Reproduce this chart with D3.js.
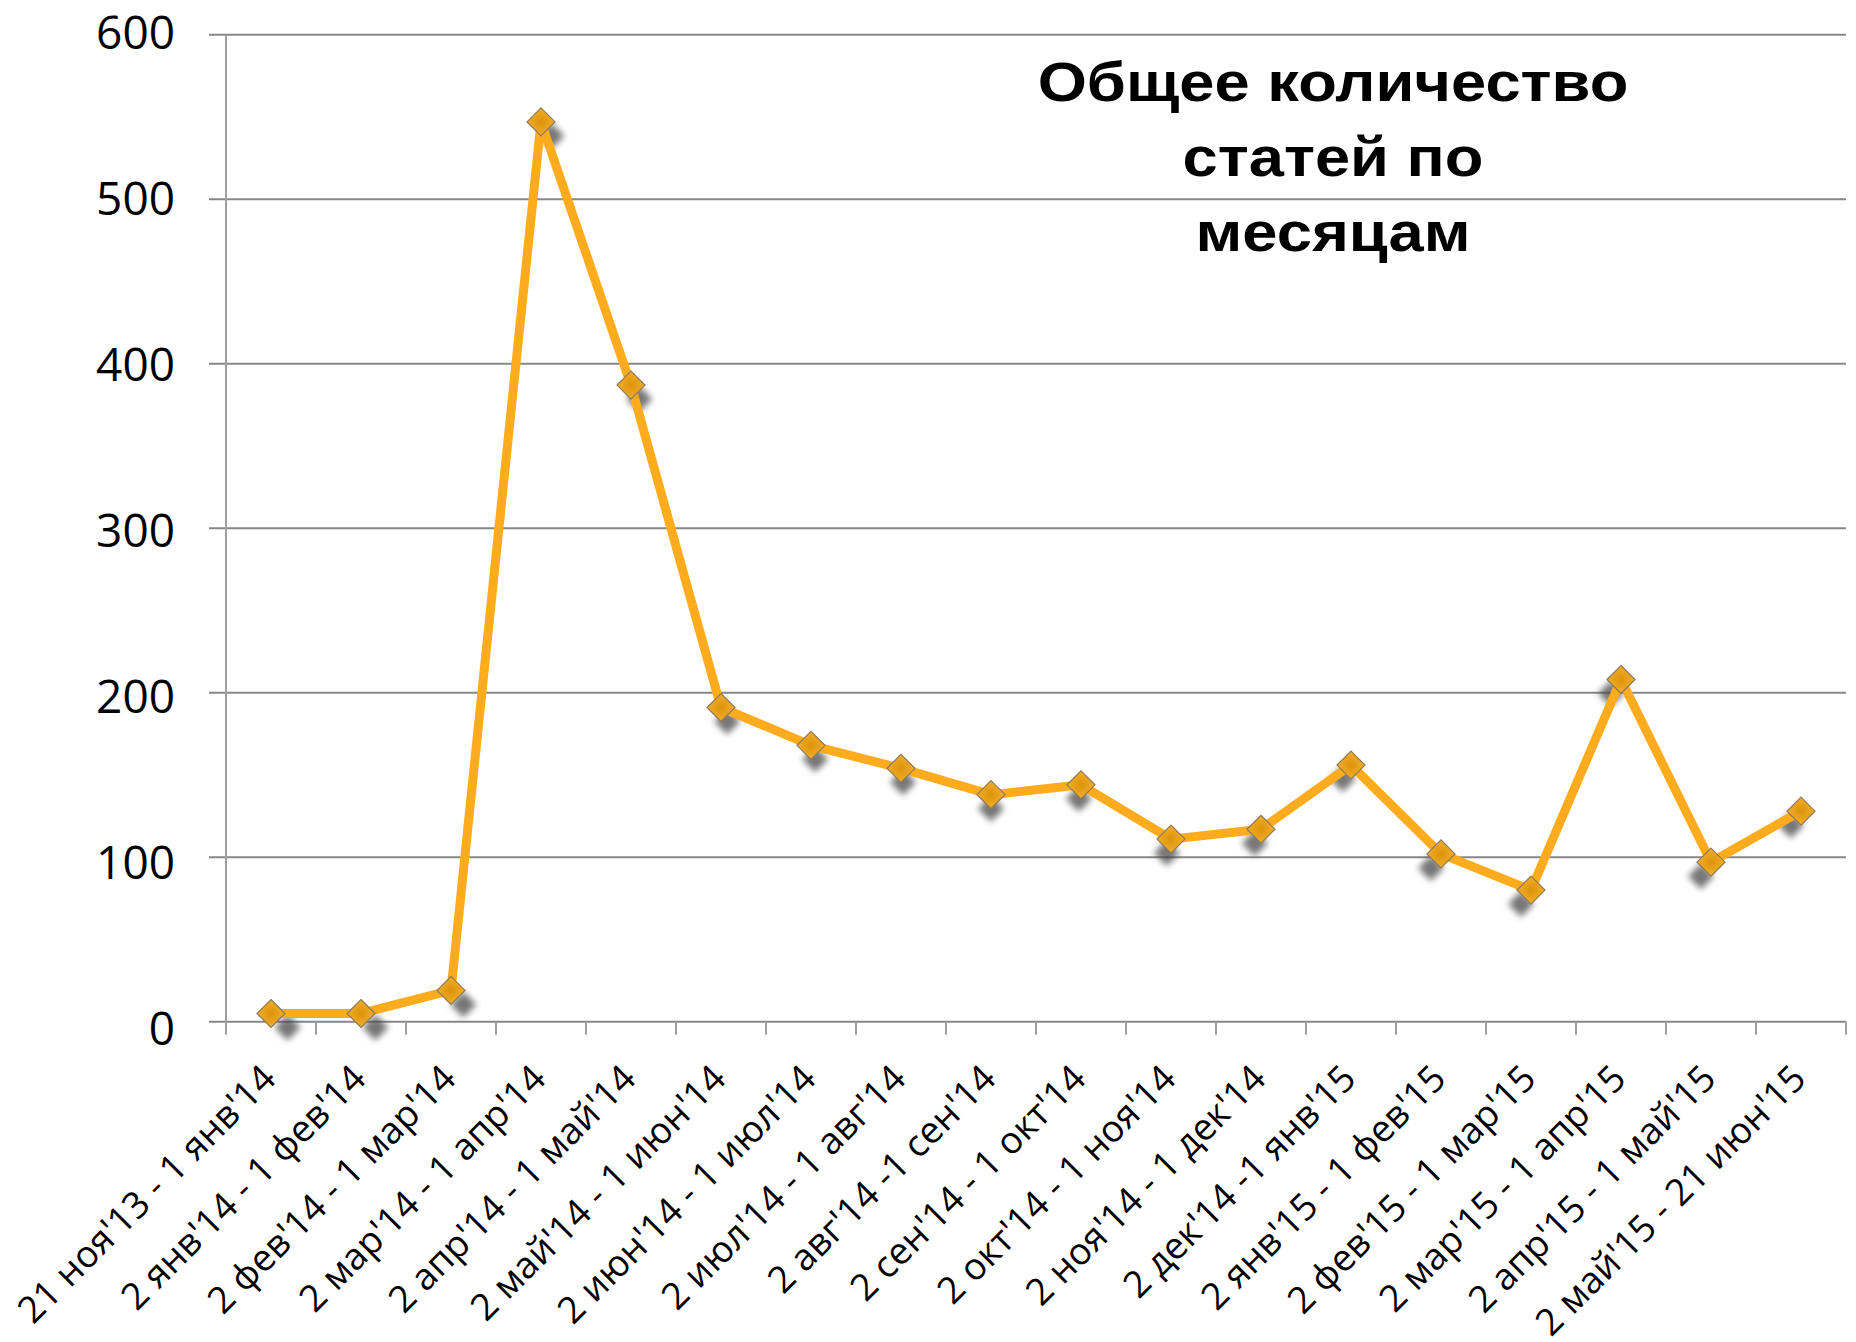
<!DOCTYPE html>
<html>
<head>
<meta charset="utf-8">
<script src="https://cdn.jsdelivr.net/npm/d3@7"></script>
<style>
	body { margin: 0; background: #fff; }
	svg { display: block; }
</style>
</head>
<body>
<script>
// Data
const periods = [
	"21 ноя'13 - 1 янв'14", "2 янв'14 - 1 фев'14", "2 фев'14 - 1 мар'14",
	"2 мар'14 - 1 апр'14", "2 апр'14 - 1 май'14", "2 май'14 - 1 июн'14",
	"2 июн'14 - 1 июл'14", "2 июл'14 - 1 авг'14", "2 авг'14 -1 сен'14",
	"2 сен'14 - 1 окт'14", "2 окт'14 - 1 ноя'14", "2 ноя'14 - 1 дек'14",
	"2 дек'14 -1 янв'15", "2 янв'15 - 1 фев'15", "2 фев'15 - 1 мар'15",
	"2 мар'15 - 1 апр'15", "2 апр'15 - 1 май'15", "2 май'15 - 21 июн'15"
];
const articles = [5, 5, 19, 547, 387, 191, 168, 154, 138, 144, 111, 117, 156, 102, 80, 208, 97, 128];
const yTicks = [0, 100, 200, 300, 400, 500, 600];
const titleLines = ["Общее количество", "статей по", "месяцам"];

// Dimensions
const width = 1856;
const height = 1342;
const plot = { left: 226, right: 1846, top: 34.7, bottom: 1021.7 };

const svg = d3.select("body").append("svg")
	.attr("width", width)
	.attr("height", height);

const x = d3.scaleBand()
	.domain(periods)
	.range([plot.left, plot.right])
	.padding(0);

const y = d3.scaleLinear()
	.domain([0, 600])
	.range([plot.bottom, plot.top]);

const cx = d => x(d) + x.bandwidth() / 2;

// gradient + shadow blur
const defs = svg.append("defs");
const grad = defs.append("radialGradient").attr("id", "markerFill");
grad.append("stop").attr("offset", "0%").attr("stop-color", "#dc930b");
grad.append("stop").attr("offset", "100%").attr("stop-color", "#f4ae2a");
defs.append("filter").attr("id", "blur")
	.attr("x", "-50%").attr("y", "-50%").attr("width", "200%").attr("height", "200%")
	.append("feGaussianBlur").attr("stdDeviation", 3);

// Gridlines
svg.append("g")
	.selectAll("line")
	.data(yTicks)
	.join("line")
	.attr("x1", plot.left - 17)
	.attr("x2", plot.right)
	.attr("y1", d => y(d))
	.attr("y2", d => y(d))
	.attr("stroke", "#878787")
	.attr("stroke-width", 2);

// Y axis labels (the original spreads them a touch wider than the grid)
const yAxis = svg.append("g")
	.attr("transform", `translate(${plot.left - 51},0)`)
	.call(d3.axisLeft(y).tickValues(yTicks).tickSize(0).tickPadding(0));
yAxis.select(".domain").remove();
yAxis.selectAll("text")
	.attr("dy", null)
	.attr("y", d => 22.5 - 1.5 * d / 100)
	.attr("font-family", "Open Sans")
	.attr("font-size", 46)
	.attr("fill", "#000");

// Y axis line
svg.append("line")
	.attr("x1", plot.left).attr("x2", plot.left)
	.attr("y1", plot.top).attr("y2", plot.bottom + 13)
	.attr("stroke", "#a0a0a0")
	.attr("stroke-width", 2);

// X ticks at category boundaries
const bounds = periods.map(d => x(d)).concat([plot.right]);
svg.append("g")
	.selectAll("line")
	.data(bounds.slice(1))
	.join("line")
	.attr("x1", d => d).attr("x2", d => d)
	.attr("y1", plot.bottom).attr("y2", plot.bottom + 13)
	.attr("stroke", "#a0a0a0")
	.attr("stroke-width", 2);

// X labels, rotated
svg.append("g")
	.selectAll("text")
	.data(periods)
	.join("text")
	.attr("transform", d => `translate(${cx(d) + 7},${plot.bottom + 59}) rotate(-45)`)
	.attr("text-anchor", "end")
	.attr("font-family", "Open Sans")
	.attr("font-size", 37)
	.attr("fill", "#000")
	.text(d => d);

// Marker shape
const diamond = s => `M0,${-s}L${s},0L0,${s}L${-s},0Z`;

// Marker shadows (light sits roughly above the middle of the chart)
svg.append("g")
	.selectAll("path")
	.data(periods)
	.join("path")
	.attr("d", diamond(13))
	.attr("transform", (d, i) => {
		const sx = Math.max(-10, Math.min(17, (990 - cx(d)) * 0.023));
		return `translate(${cx(d) + sx},${y(articles[i]) + 14})`;
	})
	.attr("fill", "#4a4a4a")
	.attr("opacity", 0.75)
	.attr("filter", "url(#blur)");

// Line
const line = d3.line()
	.x(d => cx(d))
	.y((d, i) => y(articles[i]));

svg.append("path")
	.datum(periods)
	.attr("d", line)
	.attr("fill", "none")
	.attr("stroke", "#ffab1e")
	.attr("stroke-width", 9)
	.attr("stroke-linejoin", "round");

// Markers
svg.append("g")
	.selectAll("path")
	.data(periods)
	.join("path")
	.attr("d", diamond(14))
	.attr("transform", (d, i) => `translate(${cx(d)},${y(articles[i])})`)
	.attr("fill", "url(#markerFill)")
	.attr("stroke", "#8b7a58")
	.attr("stroke-width", 1.2);

// Title
const title = svg.append("g")
	.attr("transform", "translate(1333,0) scale(1.13,1)");
title.selectAll("text")
	.data(titleLines)
	.join("text")
	.attr("x", 0)
	.attr("y", (d, i) => 101 + i * 75)
	.attr("text-anchor", "middle")
	.attr("font-family", "Liberation Sans")
	.attr("font-weight", "bold")
	.attr("font-size", 56)
	.attr("fill", "#000")
	.text(d => d);
</script>
</body>
</html>
